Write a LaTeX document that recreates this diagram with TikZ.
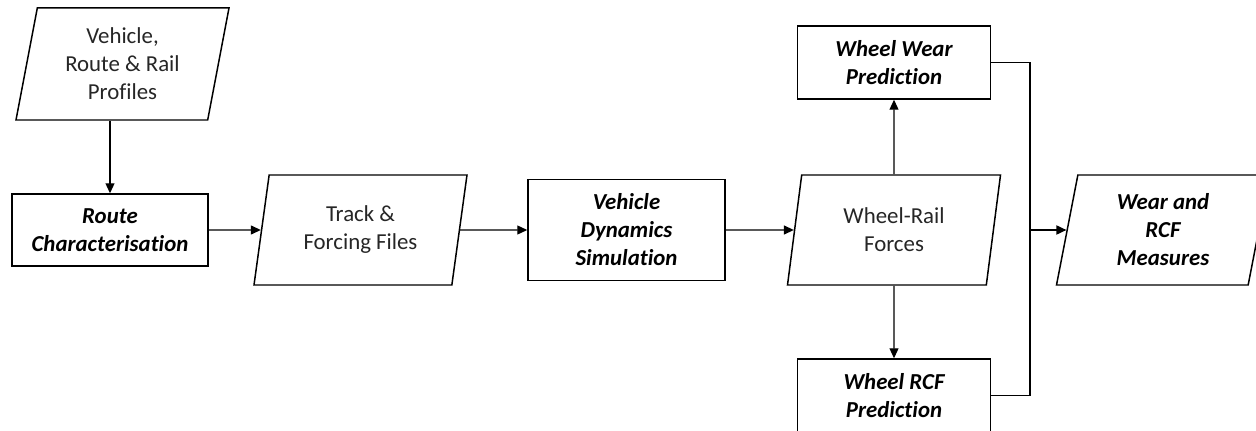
\documentclass[tikz,border=0pt]{standalone}
\usepackage{fontspec}
\setmainfont{Carlito}[RawFeature={-liga;-clig;-calt;-dlig}]
\usetikzlibrary{shapes.geometric,arrows.meta}

\begin{document}
\begin{tikzpicture}[
        font=\fontsize{13}{15.9}\selectfont,
        proc/.style={draw=black, line width=0.85pt, fill=white, align=center, minimum width=3.92cm, minimum height=1.44cm, font=\fontsize{13}{15.9}\selectfont\bfseries\itshape},
        data/.style={trapezium, trapezium left angle=75.7, trapezium right angle=104.3, trapezium stretches body, draw=black, line width=0.85pt, fill=white, align=center, minimum width=4.26cm, minimum height=2.2cm, text=black!85},
        flow/.style={-{Triangle[length=0.2cm, width=0.18cm]}, line width=0.7pt},
    ]
    \useasboundingbox (0,0) rectangle (25.12,8.6);

    %====================== INPUT (left) ======================
    \node[data, minimum height=2.24cm] (vp) at (2.45, 7.32) {Vehicle,\\Route \& Rail\\Profiles};
    \node[proc] (rc) at (2.2, 4.0) {Route\\Characterisation};

    %====================== MAIN FLOW ======================
    \node[data] (trk) at (7.21, 4.0) {Track \&\\Forcing Files};
    \node[proc, minimum width=3.94cm, minimum height=2.02cm] (vds) at (12.53, 4.0) {Vehicle\\Dynamics\\Simulation};
    \node[data] (wrf) at (17.88, 4.0) {Wheel-Rail\\Forces};

    %====================== PREDICTIONS (right) ======================
    \node[proc, minimum width=3.86cm, minimum height=1.46cm] (ww) at (17.88, 7.35) {Wheel Wear\\Prediction};
    \node[proc, minimum width=3.86cm, minimum height=1.46cm] (wrcf) at (17.88, 0.69) {Wheel RCF\\Prediction};
    \coordinate (jn) at (20.6, 4.0);
    \node[data, font=\fontsize{13}{15.9}\selectfont\bfseries\itshape, text=black] (wm) at (23.26, 4.0) {Wear and\\RCF\\Measures};

    %====================== CONNECTORS ======================
    \draw[flow] (rc.north |- vp.south) -- (rc.north);
    \draw[flow] (rc) -- (trk);
    \draw[flow] (trk) -- (vds);
    \draw[flow] (vds) -- (wrf);
    \draw[flow] (wrf) -- (ww);
    \draw[flow] (wrf) -- (wrcf);
    \draw[line width=0.7pt] (ww.east) -| (jn) |- (wrcf.east);
    \draw[flow, line width=1pt] (jn) -- (wm);

\end{tikzpicture}
\end{document}
